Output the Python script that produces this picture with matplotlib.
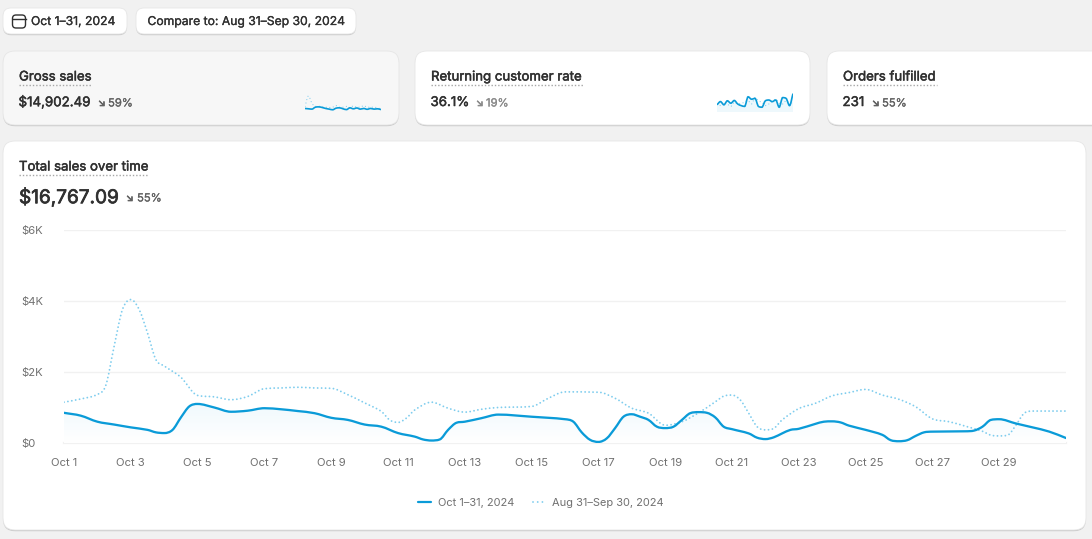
import matplotlib
matplotlib.use("Agg")
import numpy as np
import matplotlib.pyplot as plt
import matplotlib.patheffects as pe
from matplotlib.colors import LinearSegmentedColormap
from matplotlib.patches import FancyBboxPatch, PathPatch
from matplotlib.path import Path

plt.rcParams['font.family'] = ['Inter', 'DejaVu Sans']

# ---- data: readings of the main chart (thousands of dollars)
day_pos = [1,1.5,2,2.5,3,3.5,3.75,4,4.25,4.5,4.75,5,5.5,6,6.5,7,7.5,8,8.5,9,9.5,10,10.5,
           11,11.5,11.75,12,12.25,12.5,12.75,13,13.5,14,15,16,16.25,16.5,16.75,17,17.25,17.5,17.75,18,
           18.25,18.5,18.75,19,19.25,19.5,19.75,20,20.25,20.5,20.75,
           21,21.5,21.75,22,22.25,22.5,22.75,23,23.5,23.75,24,24.25,24.5,25,25.5,25.75,26,26.25,26.5,26.75,27,
           28,28.25,28.5,28.75,29,29.5,30,30.5,31]
current_sales = [.85,.77,.60,.52,.44,.37,.30,.28,.37,.72,1.03,1.10,1.0,.88,.91,.98,.95,.90,.84,.71,.65,.52,.46,
                 .28,.18,.10,.07,.10,.37,.57,.60,.70,.80,.74,.67,.60,.30,.09,.03,.13,.42,.74,.81,
                 .74,.65,.46,.42,.46,.65,.84,.87,.85,.72,.46,
                 .39,.27,.15,.11,.16,.27,.37,.40,.54,.60,.61,.58,.49,.37,.23,.08,.05,.08,.20,.30,.32,
                 .33,.35,.46,.65,.67,.55,.44,.32,.14]
prev_pos = [1,1.5,2,2.25,2.5,2.75,3,3.25,3.5,3.75,4,4.5,5,5.5,6,6.5,7,7.5,8,8.5,9,9.5,10,10.5,10.75,
            11,11.25,11.5,12,12.5,13,13.5,14,15,15.5,16,17,17.5,18,18.5,19,19.5,20,20.5,20.75,
            21,21.25,21.5,21.75,22,22.25,22.5,23,23.5,24,24.5,25,25.5,26,26.5,27,27.5,28,28.5,28.75,29,29.25,29.5,29.75,30,31]
previous_sales = [1.15,1.24,1.37,1.62,2.72,3.76,4.04,3.76,3.1,2.35,2.17,1.85,1.34,1.3,1.22,1.31,1.53,1.55,1.57,1.55,1.54,1.36,1.13,.89,.65,
                  .58,.70,.93,1.15,.98,.87,.95,1.0,1.03,1.26,1.44,1.43,1.26,.98,.84,.50,.6,.85,1.16,1.32,
                  1.35,1.21,.84,.46,.37,.41,.65,.97,1.12,1.33,1.42,1.51,1.35,1.23,1.02,.68,.6,.47,.33,.22,.20,.22,.50,.84,.90,.90]
y_ticks = [0, 2, 4, 6]
y_labels = ['$0', '$2K', '$4K', '$6K']
x_ticks = list(range(1, 31, 2))
x_labels = [f'Oct {d}' for d in x_ticks]
legend_labels = ['Oct 1–31, 2024', 'Aug 31–Sep 30, 2024']

gross_cur = [.22,.20,.18,.30,.32,.28,.22,.18,.14,.24,.26,.20,.15,.26,.20,.25,.18,.22,.17,.22,.18,.20,.15]
gross_prev = [.35,1.0,.55,.35,.36,.33,.3,.28,.3,.4,.3,.3,.35,.25,.38,.3,.3,.4,.3,.3,.3,.25,.2]
rate_cur = [.45,.65,.45,.7,.55,.72,.5,.4,.35,.95,.8,.85,.35,.3,.7,.75,.65,.75,.3,.9,.85,.4,1.15]
rate_prev = [.5,.4,.6,.5,.35,.6,.5,.55,.6,.7,.5,.9,.7,.6,.4,.5,.65,.8,.55,.5,.7,.55,.6]

BLUE = '#0a9bd8'
LIGHT = '#7fcdee'
INK = '#303030'
GREY = '#616161'
AXIS = '#707070'

def smooth_path(xs, ys, closed_base=None):
    """Cubic Bezier path through the readings: central-difference tangents, flat at extremes."""
    x, y = np.asarray(xs, float), np.asarray(ys, float)
    h = np.diff(x); s = np.diff(y) / h
    t = np.zeros_like(y)
    for i in range(1, len(y) - 1):
        if s[i-1] * s[i] > 0:
            c = (y[i+1] - y[i-1]) / (x[i+1] - x[i-1])
            t[i] = np.sign(c) * min(abs(c), 3 * min(abs(s[i-1]), abs(s[i])))
    t[0], t[-1] = s[0], s[-1]
    verts = [(x[0], y[0])]; codes = [Path.MOVETO]
    for i in range(len(h)):
        verts += [(x[i] + h[i]/3, y[i] + t[i]*h[i]/3),
                  (x[i+1] - h[i]/3, y[i+1] - t[i+1]*h[i]/3),
                  (x[i+1], y[i+1])]
        codes += [Path.CURVE4] * 3
    if closed_base is not None:
        verts += [(x[-1], closed_base), (x[0], closed_base), (x[0], closed_base)]
        codes += [Path.LINETO, Path.LINETO, Path.CLOSEPOLY]
    return Path(verts, codes)

W, H = 1092, 539
fig = plt.figure(figsize=(W/100, H/100), dpi=100, facecolor='#f1f1f1')
page = fig.add_axes([0, 0, 1, 1])
page.set_xlim(0, W); page.set_ylim(H, 0); page.axis('off')

def card(x0, y0, x1, y1, r=10, fc='white'):
    page.add_patch(FancyBboxPatch((x0, y0+1.2), x1-x0, y1-y0, boxstyle=f'round,pad=0,rounding_size={r}',
                                  fc='#c8c8c8', ec='none', zorder=1))
    page.add_patch(FancyBboxPatch((x0, y0), x1-x0, y1-y0, boxstyle=f'round,pad=0,rounding_size={r}',
                                  fc=fc, ec='#e6e6e6', lw=.6, zorder=2))

def txt(x, y, s, size=9, color=INK, stroke=0.0, ha='left'):
    t = page.text(x, y, s, fontsize=size, color=color, ha=ha, va='center', zorder=5)
    if stroke:
        t.set_path_effects([pe.withStroke(linewidth=stroke, foreground=color)])
    return t

def dotted(x0, x1, y):
    page.plot([x0, x1], [y, y], color='#a6a6a6', lw=1.0, ls=(0, (1, 1.4)), zorder=5)

# filter buttons
card(3, 8, 127, 34, r=8)
card(136, 8, 356, 34, r=8)
page.add_patch(FancyBboxPatch((12.5, 15), 13, 13, boxstyle='round,pad=0,rounding_size=3.5',
                              fc='none', ec=INK, lw=1.0, zorder=5))
page.plot([12.5, 25.5], [19, 19], color=INK, lw=1.0, zorder=5)
txt(31, 22, 'Oct 1–31, 2024', 8.75, stroke=.2)
txt(147.5, 22, 'Compare to: Aug 31–Sep 30, 2024', 8.75, stroke=.2)

# KPI cards
card(3, 51, 399, 125, r=12, fc='#f7f7f7')
card(415, 51, 810, 125, r=12)
card(827, 51, 1110, 125, r=12)
kpis = [(19, 92, 'Gross sales', '$14,902.49', 98, '59%', '#616161'),
        (431, 583, 'Returning customer rate', '36.1%', 476, '19%', '#8a8a8a'),
        (843, 937, 'Orders fulfilled', '231', 872, '55%', '#616161')]
for x0, x1, name, val, ax_, pct, c in kpis:
    txt(x0, 77.5, name, 9.5, stroke=.35)
    dotted(x0, x1, 85)
    txt(x0 - .5, 103, val, 9.6, stroke=.35)
    txt(ax_, 103, '↘', 7, color=c, stroke=.5)
    txt(ax_ + 10, 103.5, pct, 8.1, color=c, stroke=.2)

# main card
card(3, 141, 1086, 530, r=12)
txt(19, 167.5, 'Total sales over time', 9.5, stroke=.35)
dotted(19, 148, 175)
txt(19, 197.5, '$16,767.09', 13.7, stroke=.5)
txt(126, 198, '↘', 7, color=GREY, stroke=.5)
txt(137, 198.5, '55%', 8.1, color=GREY, stroke=.2)

# main chart axes: x maps Oct 1 → 64 px, Oct 31 → 1066 px; y maps 0 → 443 px, 6 → 230 px
ax = fig.add_axes([64/W, 1-443/H, (1066-64)/W, (443-230)/H], zorder=6)
ax.patch.set_alpha(0)
for s in ax.spines.values():
    s.set_visible(False)
ax.set_yticks(y_ticks, y_labels)
ax.set_xticks(x_ticks, x_labels)
ax.tick_params(length=0, labelsize=8.1, labelcolor=AXIS)
ax.tick_params(axis='y', pad=30.5)
ax.tick_params(axis='x', pad=11)
for lab in ax.get_yticklabels():
    lab.set_ha('left')
ax.set_axisbelow(True)
ax.grid(axis='y', color='#f1f1f1', lw=1.0)
ax.axhline(0, color='#f1f1f1', lw=1.6, zorder=0, clip_on=False)

# gradient area below the current series
fill_cmap = LinearSegmentedColormap.from_list('fill', ['#ffffff', '#f0f9fd'])
img = ax.imshow(np.linspace(0, 1, 64)[:, None], cmap=fill_cmap, origin='lower', aspect='auto',
                extent=(1, 31, 0, 1.1), zorder=1)
clip = PathPatch(smooth_path(day_pos, current_sales, 0), transform=ax.transData, fc='none', ec='none')
ax.add_patch(clip)
img.set_clip_path(clip)
ax.set_xlim(1, 31); ax.set_ylim(0, 6)

ax.add_patch(PathPatch(smooth_path(prev_pos, previous_sales), fc='none', ec=LIGHT, lw=1.35,
                       ls=(0, (.01, 2.1)), capstyle='round', zorder=2))
ax.add_patch(PathPatch(smooth_path(day_pos, current_sales), fc='none', ec=BLUE, lw=1.65, zorder=3, capstyle='round'))

# legend
page.plot([418, 431], [502, 502], color=BLUE, lw=1.6, zorder=5, solid_capstyle='round')
txt(438, 502.5, legend_labels[0], 7.95, color=AXIS)
page.plot([533, 545], [502, 502], color=LIGHT, lw=1.35, ls=(0, (.01, 2.5)), zorder=5, dash_capstyle='round')
txt(552, 502.5, legend_labels[1], 7.95, color=AXIS)

# sparklines
def spark(x0, x1, y0, y1, cur, prev, lw=1.2, fill=False):
    a = fig.add_axes([x0/W, 1-y1/H, (x1-x0)/W, (y1-y0)/H], zorder=7)
    a.axis('off'); a.set_xlim(0, len(cur)-1); a.set_ylim(0, 1.25)
    xs = np.arange(len(cur))
    if fill:
        a.add_patch(PathPatch(smooth_path(xs, cur, 0), fc='#eef8fc', ec='none'))
    a.add_patch(PathPatch(smooth_path(xs, prev), fc='none', ec=LIGHT, lw=.9, ls=(0, (.01, 2.8)), capstyle='round'))
    a.add_patch(PathPatch(smooth_path(xs, cur), fc='none', ec=BLUE, lw=lw))

spark(305, 381, 92, 112, gross_cur, gross_prev)
spark(717, 793, 92, 112, rate_cur, rate_prev, fill=True)

fig.savefig('out.png', dpi=100, facecolor=fig.get_facecolor())
